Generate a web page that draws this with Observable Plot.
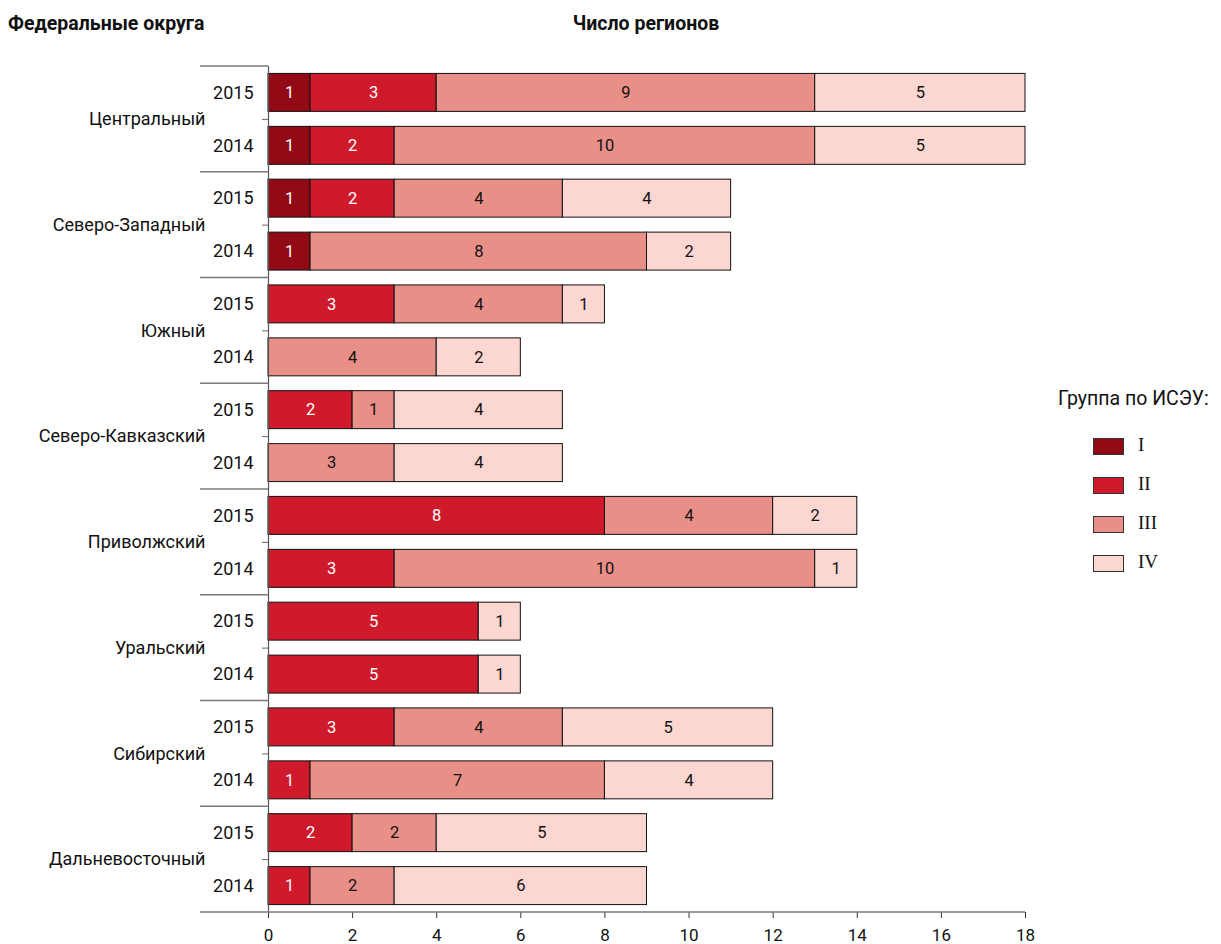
<!DOCTYPE html>
<html>
<head>
<meta charset="utf-8">
<script src="https://cdn.jsdelivr.net/npm/d3@7"></script>
<script src="https://cdn.jsdelivr.net/npm/@observablehq/plot@0.6"></script>
<style>
  body { margin: 0; background: #fff; }
  #wrap { position: relative; width: 1221px; height: 944px; font-family: Roboto, "Noto Sans", sans-serif; color: #111; }
  #chart { position: absolute; left: 0; top: 0; }
  .ttl { position: absolute; font-weight: bold; font-size: 19.5px; white-space: nowrap; }
  #legend { position: absolute; left: 1058px; top: 387px; }
  #legend .lt { font-size: 19.5px; white-space: nowrap; }
  #legend .row { position: absolute; left: 35px; height: 18px; white-space: nowrap; }
  #legend .sw { position: absolute; left: 0; top: 0; width: 29px; height: 15px; border: 1px solid #333; }
  #legend .lb { position: absolute; left: 45px; top: -4px; font-family: "Liberation Serif", "DejaVu Serif", serif; font-size: 19px; }
</style>
</head>
<body>
<div id="wrap">
  <div id="chart"></div>
  <div class="ttl" style="left:8px; top:12px;">Федеральные округа</div>
  <div class="ttl" style="left:646px; top:12px; transform:translateX(-50%);">Число регионов</div>
  <div id="legend"></div>
</div>
<script>
const districts = ["Центральный", "Северо-Западный", "Южный", "Северо-Кавказский", "Приволжский", "Уральский", "Сибирский", "Дальневосточный"];
const years = ["2015", "2014"];
const groups = ["I", "II", "III", "IV"];
const groupColors = ["#920a16", "#cf1a2c", "#e88f87", "#fcd6d1"];
const xTicks = [0, 2, 4, 6, 8, 10, 12, 14, 16, 18];

// counts per district (order as districts)
const groupI_2015   = [1, 1, 0, 0, 0, 0, 0, 0];
const groupII_2015  = [3, 2, 3, 2, 8, 5, 3, 2];
const groupIII_2015 = [9, 4, 4, 1, 4, 0, 4, 2];
const groupIV_2015  = [5, 4, 1, 4, 2, 1, 5, 5];
const groupI_2014   = [1, 1, 0, 0, 0, 0, 0, 0];
const groupII_2014  = [2, 0, 0, 0, 3, 5, 1, 1];
const groupIII_2014 = [10, 8, 4, 3, 10, 0, 7, 2];
const groupIV_2014  = [5, 2, 2, 4, 1, 1, 4, 6];

const byYear = {
  "2015": [groupI_2015, groupII_2015, groupIII_2015, groupIV_2015],
  "2014": [groupI_2014, groupII_2014, groupIII_2014, groupIV_2014]
};
const rows = [];
districts.forEach((d, i) => {
  years.forEach(y => {
    groups.forEach((g, k) => {
      const v = byYear[y][k][i];
      if (v > 0) rows.push({district: d, year: y, group: g, value: v});
    });
  });
});
const light = g => g === "I" || g === "II";

const font = "Roboto, 'Noto Sans', sans-serif";
const plot = Plot.plot({
  width: 1221,
  height: 944,
  marginLeft: 268,
  marginRight: 196,
  marginTop: 66,
  marginBottom: 32,
  style: {fontFamily: font, fontSize: "17px", color: "#111", background: "transparent"},
  x: {domain: [0, 18], axis: null, label: null},
  y: {domain: years, paddingInner: 0.283, paddingOuter: 0.14, axis: null, label: null, round: false},
  fy: {domain: districts, padding: 0, axis: null, label: null, round: false},
  color: {domain: groups, range: groupColors},
  marks: [
    Plot.barX(rows, Plot.stackX({x: "value", y: "year", fy: "district", fill: "group", stroke: "#111", strokeWidth: 1})),
    Plot.text(rows, Plot.stackX({x: "value", y: "year", fy: "district", z: "group", text: d => light(d.group) ? d.value : "", fill: "white", fontSize: 16.5})),
    Plot.text(rows, Plot.stackX({x: "value", y: "year", fy: "district", z: "group", text: d => light(d.group) ? "" : d.value, fill: "#111", fontSize: 16.5})),
    Plot.ruleX([0], {stroke: "#555", strokeWidth: 1.2}),
    Plot.axisY({anchor: "left", tickSize: 0, tickPadding: 15, fontSize: 18, label: null}),
    Plot.axisFy({anchor: "left", tickSize: 6, tickPadding: 57, fontSize: 18, stroke: "#666", label: null}),
    Plot.axisX({anchor: "bottom", ticks: xTicks, tickSize: 6, tickPadding: 10, fontSize: 17, stroke: "#333", label: null})
  ]
});
document.getElementById("chart").appendChild(plot);

// separators between federal districts, built from the plot's own scales
const sx = plot.scale("x");
const sfy = plot.scale("fy");
const x0 = sx.apply(0), x18 = sx.apply(18);
const bounds = districts.map(d => sfy.apply(d));
bounds.push(sfy.apply(districts[districts.length - 1]) + sfy.bandwidth);
const g = d3.select(plot).append("g").attr("stroke", "#7a7a7a").attr("stroke-width", 1.6);
bounds.forEach((yy, i) => {
  g.append("line")
    .attr("x1", x0 - 68).attr("x2", i === bounds.length - 1 ? x18 : x0)
    .attr("y1", yy).attr("y2", yy);
});

// legend
const leg = document.getElementById("legend");
const t = document.createElement("div");
t.className = "lt";
t.textContent = "Группа по ИСЭУ:";
leg.appendChild(t);
groups.forEach((gname, i) => {
  const r = document.createElement("div");
  r.className = "row";
  r.style.top = (51 + i * 39) + "px";
  r.innerHTML = `<div class="sw" style="background:${groupColors[i]}"></div><div class="lb">${gname}</div>`;
  leg.appendChild(r);
});
</script>
</body>
</html>
